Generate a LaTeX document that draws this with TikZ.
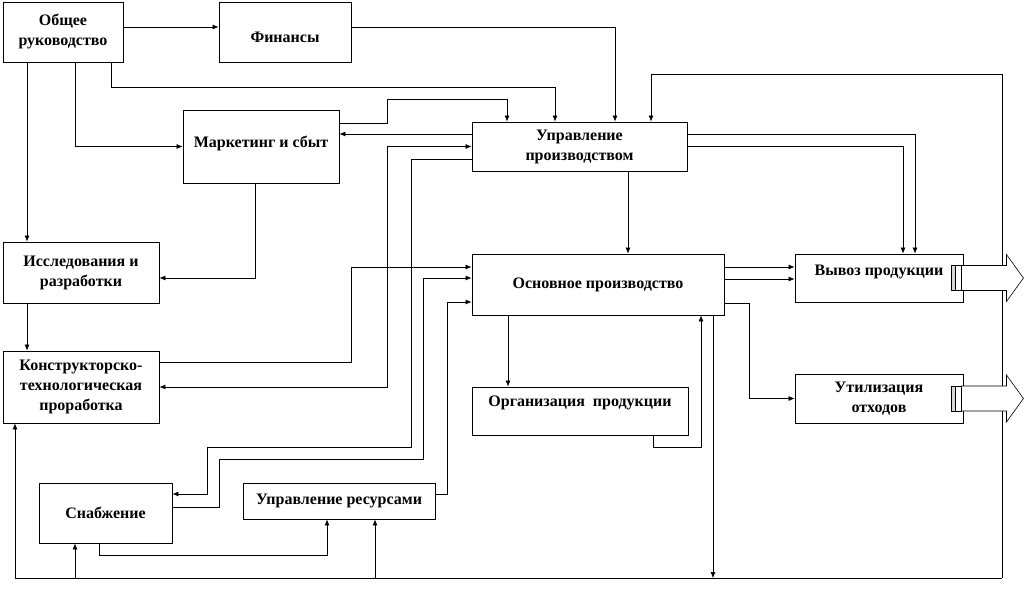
\documentclass[tikz,border=0pt]{standalone}
\usepackage{fontspec}
\setmainfont{Liberation Serif}
\usetikzlibrary{arrows.meta,calc}

\begin{document}
\begin{tikzpicture}[
    x=1pt, y=-1pt,
    box/.style={draw, line width=0.9pt, align=center, inner sep=2pt, font=\fontsize{16}{20}\selectfont\bfseries},
    link/.style={line width=0.6pt, -{Latex[length=6pt,width=5pt]}},
    both/.style={line width=0.6pt, {Latex[length=6pt,width=5pt]}-{Latex[length=6pt,width=5pt]}},
    outarrow/.style={line width=0.6pt, fill=white}
  ]
    \useasboundingbox (0,0) rectangle (1035,615);

    \node[box, minimum width=120, minimum height=60] (obsh) at (63,32) {Общее\\руководство};
    \node[box, minimum width=132, minimum height=60, text height=21pt] (fin) at (285,32) {Финансы};
    \node[box, minimum width=156, minimum height=73, text depth=10pt] (mark) at (261,146.5) {Маркетинг и сбыт};
    \node[box, minimum width=215, minimum height=49] (upr) at (579.5,146.5) {Управление\\производством};
    \node[box, minimum width=156, minimum height=61] (issl) at (81,272.5) {Исследования и\\разработки};
    \node[box, minimum width=252, minimum height=61] (osn) at (598,284.5) {Основное производство};
    \node[box, minimum width=168, minimum height=48, text depth=15.5pt] (vyv) at (879,278) {Вывоз продукции};
    \node[box, minimum width=156, minimum height=72] (konst) at (81,387) {Конструкторско-\\технологическая\\проработка};
    \node[box, minimum width=216, minimum height=48, text depth=19.5pt] (org) at (580,411) {Организация\ \ продукции};
    \node[box, minimum width=168, minimum height=49] (util) at (879,398.5) {Утилизация\\отходов};
    \node[box, minimum width=133, minimum height=60] (snab) at (105.5,513) {Снабжение};
    \node[box, minimum width=192, minimum height=36] (res) at (339,501) {Управление ресурсами};

    \coordinate (busL) at (15,578);
    \coordinate (busR) at (1002,578);

    % top part
    \draw[link] (obsh.east |- 0,27) -- (fin.west |- 0,27);
    \draw[link] (fin.east |- 0,27) -| (upr.north -| 615,0);
    \draw[link] (obsh.south -| 111,0) -- (111,87) -| (upr.north -| 555,0);
    \draw[link] (obsh.south -| 27,0) -- (issl.north -| 27,0);
    \draw[link] (obsh.south -| 75,0) |- (mark.west);
    \draw[link] (mark.east |- 0,123) -| (387,99) -| (upr.north -| 507,0);
    \draw[link] (upr.west |- 0,134) -- (mark.east |- 0,134);
    \draw[link] (mark.south -| 255,0) |- (issl.east |- 0,278);
    \draw[link] (issl.south -| 27,0) -- (konst.north -| 27,0);

    % left channels
    \draw[both] (konst.east) -| (387,146.5) -- (upr.west);
    \draw[link] (upr.west |- 0,159) -| (411,447) -| (207,494) -- (snab.east |- 0,494);
    \draw[link] (konst.east |- 0,362) -| (351,267) -- (osn.west |- 0,267);
    \draw[link] (snab.east |- 0,507) -| (219,459) -| (423,278) -- (osn.west |- 0,278);
    \draw[link] (res.east |- 0,494) -| (447,302) -- (osn.west |- 0,302);

    % production
    \draw[link] (upr.south -| 628,0) -- (osn.north -| 628,0);
    \draw[link] (upr.east |- 0,134) -| (vyv.north -| 915,0);
    \draw[link] (upr.east) -| (vyv.north -| 903,0);
    \draw[link] (osn.east |- 0,267) -- (vyv.west |- 0,267);
    \draw[link] (osn.east |- 0,279) -- (vyv.west |- 0,279);
    \draw[link] (osn.east |- 0,303) -| (749,398.5) -- (util.west);
    \draw[link] (osn.south -| 508,0) -- (org.north -| 508,0);
    \draw[link] (org.south -| 653,0) |- (701,447) -- (osn.south -| 701,0);
    \draw[link] (osn.south -| 713,0) -- (busR -| 713,0);

    % feedback bus
    \draw[link] (busR) |- (651,74) -- (upr.north -| 651,0);
    \draw[link] (busR) -| (konst.south -| busL);
    \draw[link] (busL -| 75,0) -- (snab.south -| 75,0);
    \draw[link] (busL -| 375,0) -- (res.south -| 375,0);
    \draw[link] (snab.south -| 99,0) |- (327,555) -- (res.south -| 327,0);

    % outputs
    \foreach \n in {vyv,util} {
      \draw[outarrow] ($(\n.east)+(-2,-12.5)$) -- ++(45,0) -- ++(0,-11) -- ($(\n.east)+(60,0)$)
        -- ($(\n.east)+(43,23.5)$) -- ++(0,-11) -- ($(\n.east)+(-2,12.5)$) -- cycle;
      \draw[outarrow, fill=gray!30] ($(\n.east)+(-12,-12.5)$) rectangle ($(\n.east)+(-8,12.5)$);
      \draw[outarrow] ($(\n.east)+(-8,-12.5)$) rectangle ($(\n.east)+(-2,12.5)$);
    }
\end{tikzpicture}
\end{document}
